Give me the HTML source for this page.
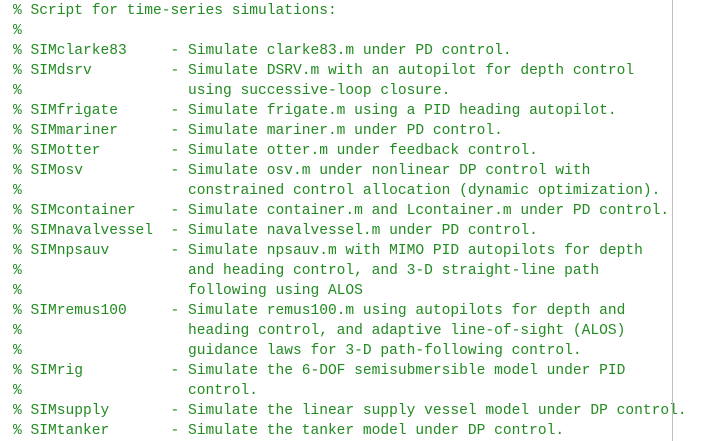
<!DOCTYPE html>
<html><head><meta charset="utf-8"><style>
html,body{margin:0;padding:0;background:#fff;width:711px;height:441px;overflow:hidden}
pre{position:absolute;left:13px;top:1px;margin:0;font-family:"Liberation Mono",monospace;font-size:14.58px;line-height:20px;color:#228b22;letter-spacing:0}
.bar{position:absolute;left:672px;top:0;width:1px;height:441px;background:#c0c0c0}
</style></head><body>
<pre>% Script for time-series simulations:
%
% SIMclarke83     - Simulate clarke83.m under PD control.
% SIMdsrv         - Simulate DSRV.m with an autopilot for depth control
%                   using successive-loop closure.
% SIMfrigate      - Simulate frigate.m using a PID heading autopilot.
% SIMmariner      - Simulate mariner.m under PD control.
% SIMotter        - Simulate otter.m under feedback control.
% SIMosv          - Simulate osv.m under nonlinear DP control with
%                   constrained control allocation (dynamic optimization).
% SIMcontainer    - Simulate container.m and Lcontainer.m under PD control.
% SIMnavalvessel  - Simulate navalvessel.m under PD control.
% SIMnpsauv       - Simulate npsauv.m with MIMO PID autopilots for depth
%                   and heading control, and 3-D straight-line path
%                   following using ALOS
% SIMremus100     - Simulate remus100.m using autopilots for depth and
%                   heading control, and adaptive line-of-sight (ALOS)
%                   guidance laws for 3-D path-following control.
% SIMrig          - Simulate the 6-DOF semisubmersible model under PID
%                   control.
% SIMsupply       - Simulate the linear supply vessel model under DP control.
% SIMtanker       - Simulate the tanker model under DP control.</pre>
<div class="bar"></div>
</body></html>
